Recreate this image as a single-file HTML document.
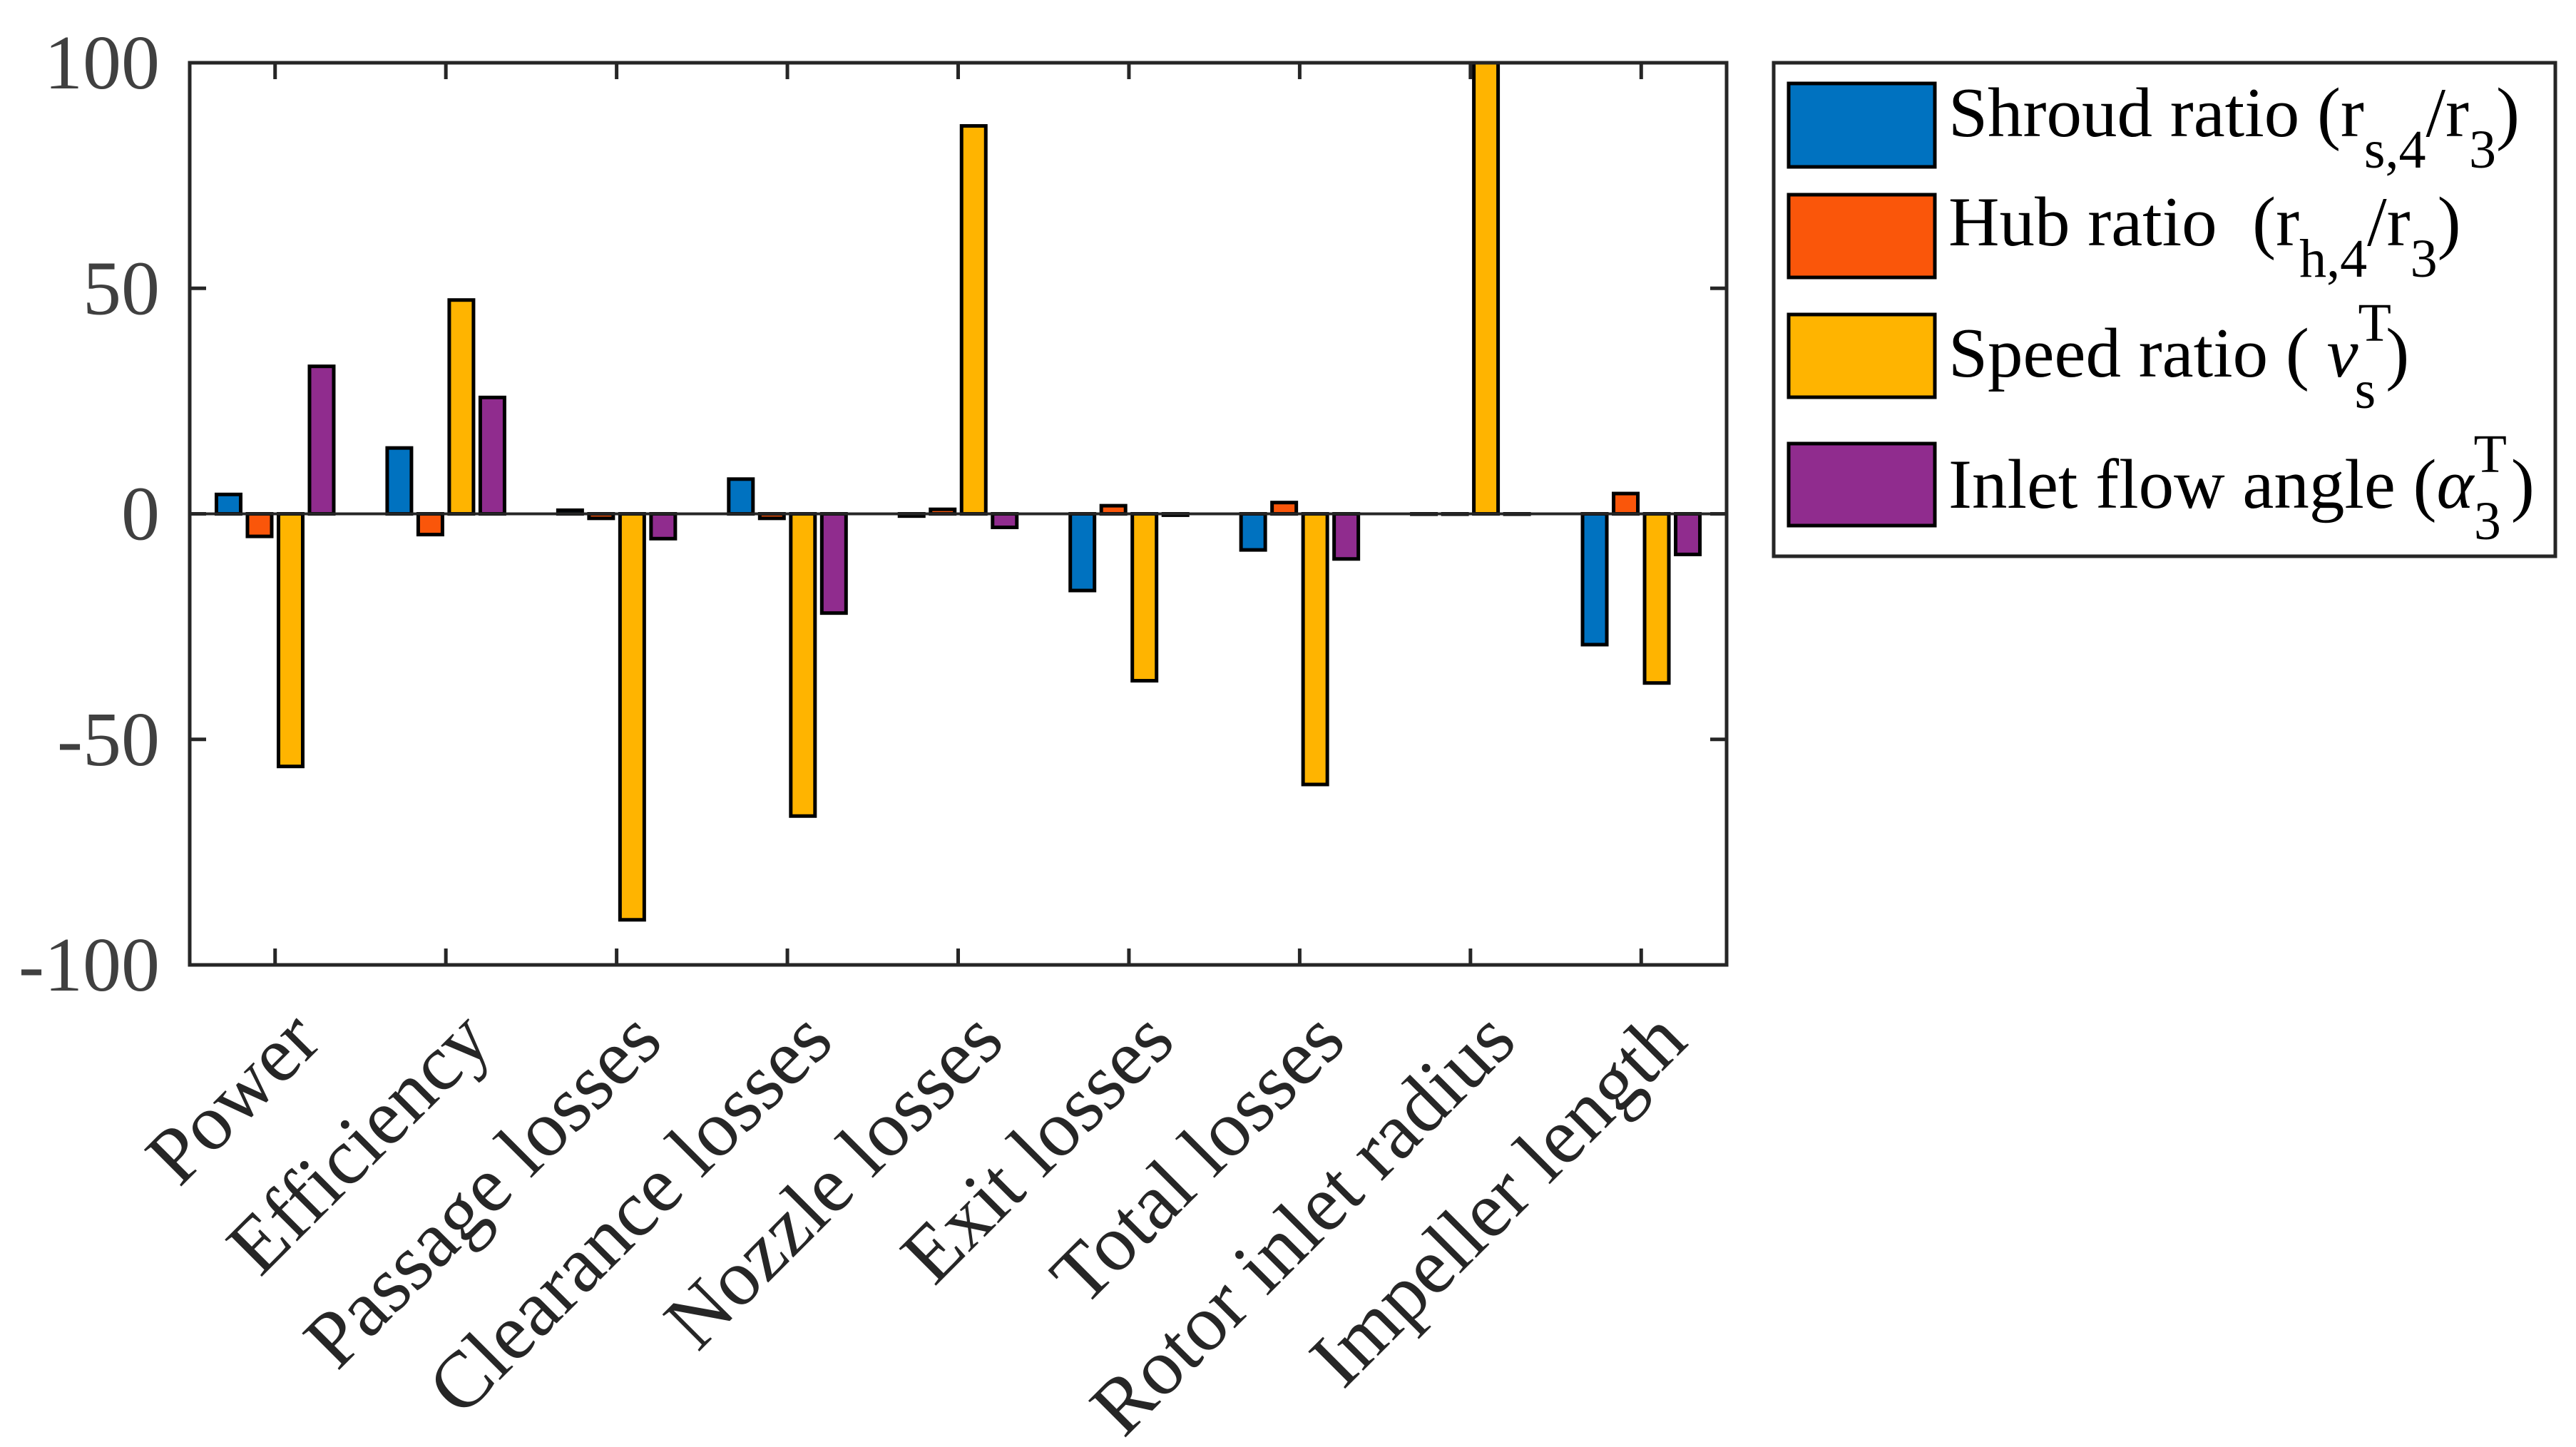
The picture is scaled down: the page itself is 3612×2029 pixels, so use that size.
<!DOCTYPE html>
<html><head><meta charset="utf-8"><style>
html,body{margin:0;padding:0;background:#fff;}
svg{display:block;font-family:"Liberation Serif",serif;}
</style></head><body>
<svg id="chart" width="3612" height="2029" viewBox="0 0 3612 2029" xmlns="http://www.w3.org/2000/svg">
<rect x="0" y="0" width="3612" height="2029" fill="#fff"/>
<g id="bars"></g>
<g id="axes"></g>
<g id="legend">
<rect x="2487" y="88" width="1096" height="692" fill="#fff" stroke="#262626" stroke-width="5"/>
<rect x="2508" y="117" width="205" height="117" fill="#0072C0" stroke="#000" stroke-width="5"/>
<rect x="2508" y="273" width="205" height="116" fill="#FA560A" stroke="#000" stroke-width="5"/>
<rect x="2508" y="441" width="205" height="116" fill="#FFB400" stroke="#000" stroke-width="5"/>
<rect x="2508" y="622" width="205" height="115" fill="#902C8E" stroke="#000" stroke-width="5"/>
<text x="2732" y="191" font-size="99" fill="#000">Shroud ratio (r<tspan dy="44" font-size="76">s,4</tspan><tspan dy="-44">/r</tspan><tspan dy="44" font-size="76">3</tspan><tspan dy="-44">)</tspan></text>
<text x="2732" y="344" font-size="99" fill="#000">Hub ratio &#160;(r<tspan dy="44" font-size="76">h,4</tspan><tspan dy="-44">/r</tspan><tspan dy="44" font-size="76">3</tspan><tspan dy="-44">)</tspan></text>
<text x="2732" y="528" font-size="99" fill="#000">Speed ratio ( <tspan font-style="italic">ν</tspan><tspan dy="-50" font-size="76">T</tspan><tspan dx="-46" dy="94" font-size="76">s</tspan><tspan dy="-44" dx="14">)</tspan></text>
<text x="2732" y="712" font-size="99" fill="#000">Inlet flow angle (<tspan font-style="italic">α</tspan><tspan dy="-50" font-size="76">T</tspan><tspan dx="-46" dy="94" font-size="76">3</tspan><tspan dy="-44" dx="14">)</tspan></text>
</g>
</svg>
<script>
const categories = ["Power","Efficiency","Passage losses","Clearance losses","Nozzle losses","Exit losses","Total losses","Rotor inlet radius","Impeller length"];
const shroudValues = [4.3, 14.6, 0.8, 7.7, -0.5, -17, -8, 0, -29];
const hubValues = [-5, -4.6, -1, -1, 1, 1.8, 2.5, 0, 4.5];
const speedValues = [-56, 47.4, -90, -67, 86, -37, -60, 100, -37.5];
const angleValues = [32.7, 25.8, -5.5, -22, -3, -0.3, -10, 0, -9];
const yTicks = [-100, -50, 0, 50, 100];
const yTickLabels = ["-100", "-50", "0", "50", "100"];

const NS = "http://www.w3.org/2000/svg";
const L = 266, R = 2421, T = 88, B = 1353;
const yMin = -100, yMax = 100;
function yScale(v){ return B - (v - yMin) / (yMax - yMin) * (B - T); }
function xScale(i){ return L + (i + 0.5) * (R - L) / categories.length; }
function mk(tag, attrs, parent){
  const e = document.createElementNS(NS, tag);
  for (const k in attrs) e.setAttribute(k, attrs[k]);
  parent.appendChild(e);
  return e;
}
const barsG = document.getElementById('bars');
const axesG = document.getElementById('axes');
const series = [
  {vals: shroudValues, color: "#0072C0", key: "shroud"},
  {vals: hubValues, color: "#FA560A", key: "hub"},
  {vals: speedValues, color: "#FFB400", key: "speed"},
  {vals: angleValues, color: "#902C8E", key: "angle"}
];
const pitch = 43.5, bw = 34;
series.forEach((s, si) => {
  s.vals.forEach((v, i) => {
    const cx = xScale(i) + (si - 1.5) * pitch;
    const vc = Math.max(yMin, Math.min(yMax, v));
    const y0 = yScale(0), y1 = yScale(vc);
    const r = mk('rect', {x: cx - bw/2, y: Math.min(y0, y1), width: bw, height: Math.max(Math.abs(y1 - y0), 0.5), fill: s.color, stroke: "#000", "stroke-width": 5}, barsG);
    
    
  });
});
const zl = mk('line', {x1: L, x2: R, y1: yScale(0), y2: yScale(0), stroke: "#262626", "stroke-width": 4}, axesG);


const box = mk('rect', {x: L, y: T, width: R - L, height: B - T, fill: "none", stroke: "#262626", "stroke-width": 5}, axesG);


yTicks.forEach((t, i) => {
  const y = yScale(t);
  const tk = mk('line', {x1: L, x2: L + 23, y1: y, y2: y, stroke: "#262626", "stroke-width": 5}, axesG);
  
  
  const tk2 = mk('line', {x1: R, x2: R - 23, y1: y, y2: y, stroke: "#262626", "stroke-width": 5}, axesG);
  
  
  const tx = mk('text', {x: 224, y: y + 36, "text-anchor": "end", "font-size": 108, fill: "#404040"}, axesG);
  tx.textContent = yTickLabels[i];
  
  
});
categories.forEach((c, i) => {
  const x = xScale(i);
  const a = mk('line', {x1: x, x2: x, y1: B, y2: B - 23, stroke: "#262626", "stroke-width": 5}, axesG);
  
  
  const b = mk('line', {x1: x, x2: x, y1: T, y2: T + 23, stroke: "#262626", "stroke-width": 5}, axesG);
  
  
  const px = x + 68, py = 1464;
  const tx = mk('text', {x: px, y: py, "text-anchor": "end", "font-size": 112, fill: "#262626", transform: "rotate(-45 " + px + " " + py + ")"}, axesG);
  tx.textContent = c;
  
  
});
</script>
</body></html>
